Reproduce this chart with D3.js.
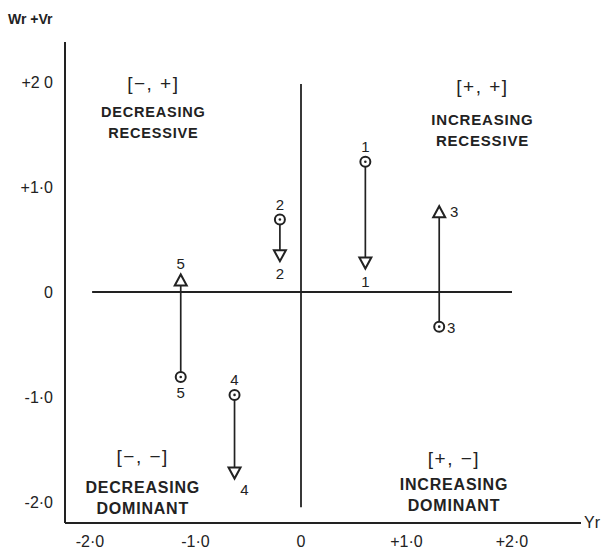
<!DOCTYPE html>
<html>
<head>
<meta charset="utf-8">
<script src="https://cdn.jsdelivr.net/npm/d3@7"></script>
<style>
  body { margin: 0; background: #fff; }
  text { font-family: "Liberation Sans", sans-serif; fill: #222; }
</style>
</head>
<body>
<svg id="chart" width="607" height="553"></svg>
<script>
// pair numbers and their Yr position, start (circle) and end (triangle) of Wr+Vr
var pairs = ["1", "2", "3", "4", "5"];
var yrValues = [0.61, -0.20, 1.31, -0.63, -1.14];
var startValues = [1.24, 0.69, -0.33, -0.98, -0.81];
var endValues = [0.28, 0.35, 0.76, -1.72, 0.11];

var xTicks = [-2, -1, 0, 1, 2];
var xTickLabels = ["-2·0", "-1·0", "0", "+1·0", "+2·0"];
var yTicks = [2, 1, 0, -1, -2];
var yTickLabels = ["+2 0", "+1·0", "0", "-1·0", "-2·0"];

var quadrants = [
    { sign: "[−, +]", words: ["DECREASING", "RECESSIVE"], qx: -1.4, qy: 1.92, gap: 27, size: 14.5 },
    { sign: "[+, +]", words: ["INCREASING", "RECESSIVE"], qx: 1.72, qy: 1.9, gap: 32, size: 15 },
    { sign: "[−, −]", words: ["DECREASING", "DOMINANT"], qx: -1.5, qy: -1.63, gap: 30, size: 16 },
    { sign: "[+, −]", words: ["INCREASING", "DOMINANT"], qx: 1.45, qy: -1.65, gap: 25, size: 16 }
];

var svg = d3.select("#chart");
var ink = "#222";

var x = d3.scaleLinear().domain([-2, 2]).range([90, 512]);
var y = d3.scaleLinear().domain([-2, 2]).range([502, 82]);

// outer axes
var axisLeft = 65, axisBottom = 523;
svg.append("line")
    .attr("x1", axisLeft).attr("x2", axisLeft)
    .attr("y1", 42).attr("y2", axisBottom)
    .attr("stroke", ink).attr("stroke-width", 2);
svg.append("line")
    .attr("x1", axisLeft).attr("x2", 581)
    .attr("y1", axisBottom).attr("y2", axisBottom)
    .attr("stroke", ink).attr("stroke-width", 2);

// zero lines
svg.append("line")
    .attr("x1", x(-1.98)).attr("x2", x(2))
    .attr("y1", y(0)).attr("y2", y(0))
    .attr("stroke", ink).attr("stroke-width", 1.8);
svg.append("line")
    .attr("x1", x(0)).attr("x2", x(0))
    .attr("y1", y(1.98)).attr("y2", y(-2.05))
    .attr("stroke", ink).attr("stroke-width", 1.8);

// tick labels
svg.selectAll("text.xtick")
    .data(xTicks).enter()
    .append("text").attr("class", "xtick")
    .attr("x", function (d) { return x(d); })
    .attr("y", 547)
    .attr("text-anchor", "middle")
    .attr("font-size", 16)
    .text(function (d, i) { return xTickLabels[i]; });

svg.selectAll("text.ytick")
    .data(yTicks).enter()
    .append("text").attr("class", "ytick")
    .attr("x", 53)
    .attr("y", function (d) { return y(d) + 6; })
    .attr("text-anchor", "end")
    .attr("font-size", 16)
    .text(function (d, i) { return yTickLabels[i]; });

// axis titles
svg.append("text")
    .attr("x", 8).attr("y", 24)
    .attr("font-size", 14).attr("font-weight", "bold")
    .text("Wr +Vr");
svg.append("text")
    .attr("x", 584).attr("y", 528)
    .attr("font-size", 16)
    .text("Yr");

// quadrant captions
quadrants.forEach(function (q) {
    var g = svg.append("g")
        .attr("transform", "translate(" + x(q.qx) + "," + y(q.qy) + ")");
    g.append("text")
        .attr("text-anchor", "middle")
        .attr("font-size", 19)
        .attr("letter-spacing", 1.5)
        .text(q.sign);
    q.words.forEach(function (w, i) {
        g.append("text")
            .attr("y", q.gap + i * 21)
            .attr("text-anchor", "middle")
            .attr("font-size", q.size)
            .attr("font-weight", "bold")
            .attr("letter-spacing", 0.8)
            .text(w);
    });
});

// shifts from circle to triangle
var shifts = pairs.map(function (p, i) {
    return { id: p, xr: yrValues[i], from: startValues[i], to: endValues[i] };
});

svg.selectAll("line.shift")
    .data(shifts).enter()
    .append("line").attr("class", "shift")
    .attr("x1", function (d) { return x(d.xr); })
    .attr("x2", function (d) { return x(d.xr); })
    .attr("y1", function (d) { return y(d.from); })
    .attr("y2", function (d) { return y(d.to); })
    .attr("stroke", ink).attr("stroke-width", 1.7);

svg.selectAll("circle.start")
    .data(shifts).enter()
    .append("circle").attr("class", "start")
    .attr("cx", function (d) { return x(d.xr); })
    .attr("cy", function (d) { return y(d.from); })
    .attr("r", 5)
    .attr("fill", "#fff").attr("stroke", ink).attr("stroke-width", 2);

svg.selectAll("circle.dot")
    .data(shifts).enter()
    .append("circle").attr("class", "dot")
    .attr("cx", function (d) { return x(d.xr); })
    .attr("cy", function (d) { return y(d.from); })
    .attr("r", 1.3)
    .attr("fill", ink);

svg.selectAll("path.head")
    .data(shifts).enter()
    .append("path").attr("class", "head")
    .attr("d", function (d) {
        var cx = x(d.xr), cy = y(d.to);
        var dir = d.to < d.from ? 1 : -1;   // 1 = pointing down
        return "M" + (cx - 6) + "," + (cy - 5 * dir) +
            "L" + (cx + 6) + "," + (cy - 5 * dir) +
            "L" + cx + "," + (cy + 6 * dir) + "Z";
    })
    .attr("fill", "#fff").attr("stroke", ink).attr("stroke-width", 2);

// pair numbers at both ends
svg.selectAll("text.startlab")
    .data(shifts).enter()
    .append("text").attr("class", "startlab")
    .attr("font-size", 15)
    .attr("text-anchor", "middle")
    .attr("x", function (d) { return d.id === "3" ? x(d.xr) + 12 : x(d.xr); })
    .attr("y", function (d) {
        if (d.id === "3") return y(d.from) + 6;
        return d.to < d.from ? y(d.from) - 10 : y(d.from) + 21;
    })
    .text(function (d) { return d.id; });

svg.selectAll("text.endlab")
    .data(shifts).enter()
    .append("text").attr("class", "endlab")
    .attr("font-size", 15)
    .attr("text-anchor", "middle")
    .attr("x", function (d) {
        if (d.id === "3") return x(d.xr) + 15;
        if (d.id === "4") return x(d.xr) + 10;
        return x(d.xr);
    })
    .attr("y", function (d) {
        if (d.id === "3") return y(d.to) + 5;
        if (d.id === "4") return y(d.to) + 22;
        return d.to < d.from ? y(d.to) + 24 : y(d.to) - 11;
    })
    .text(function (d) { return d.id; });
</script>
</body>
</html>
